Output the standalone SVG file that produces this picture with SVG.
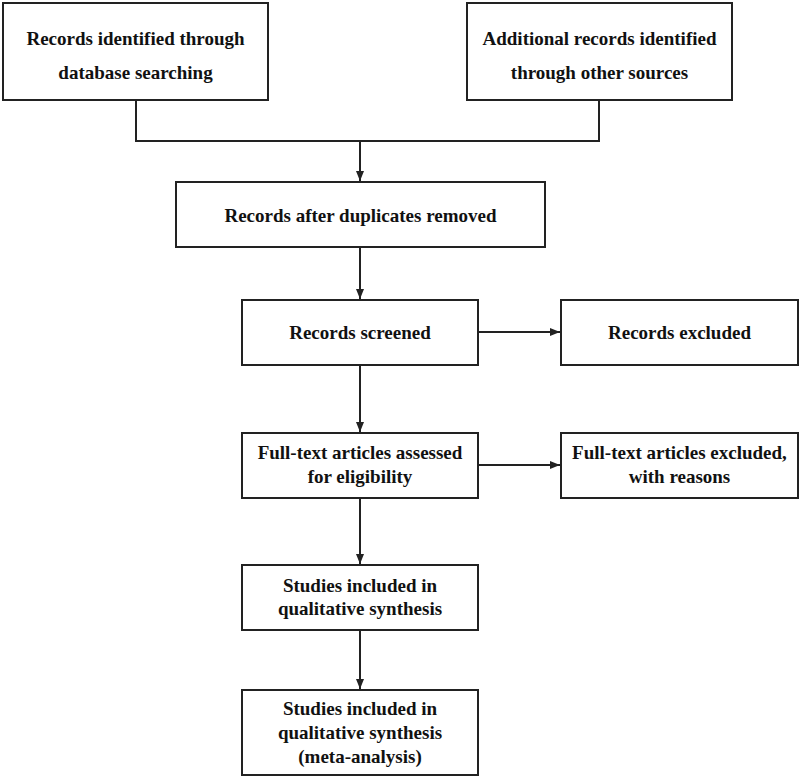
<svg xmlns="http://www.w3.org/2000/svg" width="800" height="777" viewBox="0 0 800 777">
<style>
.box{fill:#fff;stroke:#222;stroke-width:2}
.t{font-family:"Liberation Serif","Times New Roman",serif;font-weight:bold;font-size:19px;fill:#111;text-anchor:middle}
.c{fill:none;stroke:#222;stroke-width:2}
</style>
<defs>
<marker id="ah" markerUnits="userSpaceOnUse" markerWidth="10" markerHeight="10" viewBox="0 0 10 10" refX="10" refY="5" orient="auto">
<path d="M0,1 L10,5 L0,9 Z" fill="#222"/>
</marker>
</defs>
<rect width="800" height="777" fill="#fff"/>
<g id="connectors">
<polyline class="c" points="136,100 136,141 599,141 599,100"/>
<line class="c" x1="360" y1="141" x2="360" y2="181" marker-end="url(#ah)"/>
<line class="c" x1="360" y1="247" x2="360" y2="299" marker-end="url(#ah)"/>
<line class="c" x1="360" y1="365" x2="360" y2="432" marker-end="url(#ah)"/>
<line class="c" x1="360" y1="498" x2="360" y2="564" marker-end="url(#ah)"/>
<line class="c" x1="360" y1="630" x2="360" y2="689" marker-end="url(#ah)"/>
<line class="c" x1="478" y1="332" x2="560" y2="332" marker-end="url(#ah)"/>
<line class="c" x1="478" y1="465" x2="560" y2="465" marker-end="url(#ah)"/>
</g>
<g id="n1">
<rect class="box" x="3" y="3" width="265" height="97"/>
<text class="t" x="135.5" y="45">Records identified through</text>
<text class="t" x="135.5" y="79">database searching</text>
</g>
<g id="n2">
<rect class="box" x="467" y="3" width="265" height="97"/>
<text class="t" x="599.5" y="45">Additional records identified</text>
<text class="t" x="599.5" y="79">through other sources</text>
</g>
<g id="n3">
<rect class="box" x="176" y="182" width="369" height="65"/>
<text class="t" x="360.5" y="222">Records after duplicates removed</text>
</g>
<g id="n4">
<rect class="box" x="242" y="300" width="236" height="65"/>
<text class="t" x="360" y="339">Records screened</text>
</g>
<g id="n5">
<rect class="box" x="561" y="300" width="237" height="65"/>
<text class="t" x="679.5" y="339">Records excluded</text>
</g>
<g id="n6">
<rect class="box" x="242" y="433" width="236" height="65"/>
<text class="t" x="360" y="459">Full-text articles assessed</text>
<text class="t" x="360" y="483">for eligibility</text>
</g>
<g id="n7">
<rect class="box" x="561" y="433" width="237" height="65"/>
<text class="t" x="679.5" y="459">Full-text articles excluded,</text>
<text class="t" x="679.5" y="483">with reasons</text>
</g>
<g id="n8">
<rect class="box" x="242" y="565" width="236" height="65"/>
<text class="t" x="360" y="592">Studies included in</text>
<text class="t" x="360" y="615">qualitative synthesis</text>
</g>
<g id="n9">
<rect class="box" x="242" y="690" width="236" height="85"/>
<text class="t" x="360" y="715">Studies included in</text>
<text class="t" x="360" y="739">qualitative synthesis</text>
<text class="t" x="360" y="763">(meta-analysis)</text>
</g>
</svg>
